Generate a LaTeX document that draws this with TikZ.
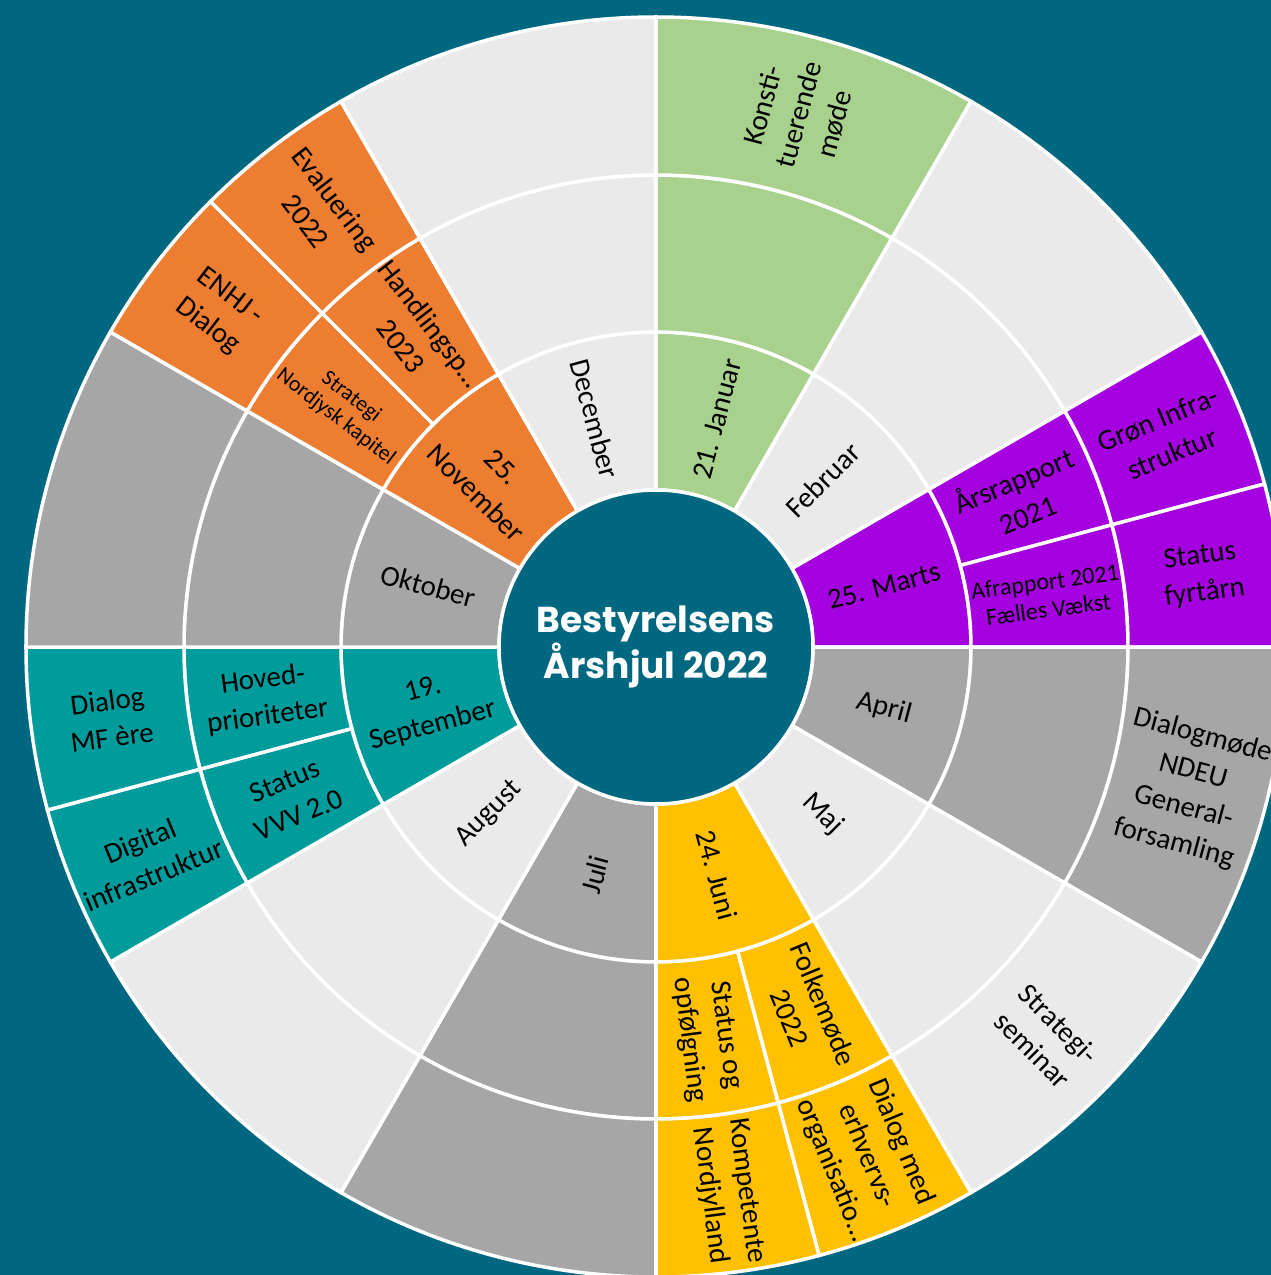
\documentclass[tikz,border=0pt]{standalone}
\usepackage{fontspec}
\setmainfont{Carlito}
\newfontfamily\titelfont{Poppins}
\usepackage{tikz}
\definecolor{baggrund}{HTML}{006780}
\definecolor{lysgraa}{HTML}{EAEAEA}
\definecolor{moerkgraa}{HTML}{A6A6A6}
\definecolor{groen}{HTML}{A9D18E}
\definecolor{lilla}{HTML}{A500E0}
\definecolor{gul}{HTML}{FFC000}
\definecolor{turkis}{HTML}{009B9B}
\definecolor{orange}{HTML}{ED7D31}
\newcommand{\sektor}[5]{%
  \filldraw[skel,fill=#1] (#2:#4pt) arc[start angle=#2,end angle=#3,radius=#4pt]
    -- (#3:#5pt) arc[start angle=#3,end angle=#2,radius=#5pt] -- cycle;}

\begin{document}
\begin{tikzpicture}[
    skel/.style={draw=white, line width=3.5pt},
    mnd/.style={font=\fontsize{29}{37}\selectfont, align=center, text=black},
    lille/.style={font=\fontsize{24}{28}\selectfont, align=center, text=black}]
  \useasboundingbox (-656pt,-628pt) rectangle (615pt,647pt);
  \clip (-656pt,-628pt) rectangle (615pt,647pt);
  \fill[baggrund] (-656pt,-628pt) rectangle (615pt,647pt);

  \sektor{groen}{90}{60}{157}{315}
  \sektor{groen}{90}{60}{315}{472}
  \sektor{groen}{90}{60}{472}{630}
  \sektor{lysgraa}{60}{30}{157}{315}
  \sektor{lysgraa}{60}{30}{315}{472}
  \sektor{lysgraa}{60}{30}{472}{630}
  \sektor{lilla}{30}{0}{157}{315}
  \sektor{lilla}{30}{15}{315}{472}
  \sektor{lilla}{15}{0}{315}{472}
  \sektor{lilla}{30}{15}{472}{630}
  \sektor{lilla}{15}{0}{472}{630}
  \sektor{moerkgraa}{0}{-30}{157}{315}
  \sektor{moerkgraa}{0}{-30}{315}{472}
  \sektor{moerkgraa}{0}{-30}{472}{630}
  \sektor{lysgraa}{-30}{-60}{157}{315}
  \sektor{lysgraa}{-30}{-60}{315}{472}
  \sektor{lysgraa}{-30}{-60}{472}{630}
  \sektor{gul}{-60}{-90}{157}{315}
  \sektor{gul}{-60}{-75}{315}{472}
  \sektor{gul}{-75}{-90}{315}{472}
  \sektor{gul}{-60}{-75}{472}{630}
  \sektor{gul}{-75}{-90}{472}{630}
  \sektor{moerkgraa}{-90}{-120}{157}{315}
  \sektor{moerkgraa}{-90}{-120}{315}{472}
  \sektor{moerkgraa}{-90}{-120}{472}{630}
  \sektor{lysgraa}{-120}{-150}{157}{315}
  \sektor{lysgraa}{-120}{-150}{315}{472}
  \sektor{lysgraa}{-120}{-150}{472}{630}
  \sektor{turkis}{-150}{-180}{157}{315}
  \sektor{turkis}{-150}{-165}{315}{472}
  \sektor{turkis}{-165}{-180}{315}{472}
  \sektor{turkis}{-150}{-165}{472}{630}
  \sektor{turkis}{-165}{-180}{472}{630}
  \sektor{moerkgraa}{180}{150}{157}{315}
  \sektor{moerkgraa}{180}{150}{315}{472}
  \sektor{moerkgraa}{180}{150}{472}{630}
  \sektor{orange}{150}{120}{157}{315}
  \sektor{orange}{150}{135}{315}{472}
  \sektor{orange}{135}{120}{315}{472}
  \sektor{orange}{150}{135}{472}{630}
  \sektor{orange}{135}{120}{472}{630}
  \sektor{lysgraa}{120}{90}{157}{315}
  \sektor{lysgraa}{120}{90}{315}{472}
  \sektor{lysgraa}{120}{90}{472}{630}

  \node[circle, fill=baggrund, draw=white, line width=3.5pt, minimum size=314pt,
        inner sep=0pt, align=center, text=white,
        font=\titelfont\bfseries\fontsize{36}{44}\selectfont] (midte) at (0,0)
        {Bestyrelsens\\Årshjul 2022};

  \node[mnd, rotate=75]  (jan) at (75:236pt)   {21. Januar};
  \node[mnd, rotate=45]  (feb) at (45:236pt)   {Februar};
  \node[mnd, rotate=15]  (mar) at (15:236pt)   {25. Marts};
  \node[mnd, rotate=-15] (apr) at (-15:236pt)  {April};
  \node[mnd, rotate=-45] (maj) at (-45:236pt)  {Maj};
  \node[mnd, rotate=-75] (jun) at (-75:236pt)  {24. Juni};
  \node[mnd, rotate=75]  (jul) at (-105:236pt) {Juli};
  \node[mnd, rotate=45]  (aug) at (-135:236pt) {August};
  \node[mnd, rotate=15]  (sep) at (-165:236pt) {19.\\September};
  \node[mnd, rotate=-15] (okt) at (165:236pt)  {Oktober};
  \node[mnd, rotate=-45] (nov) at (135:236pt)  {25.\\November};
  \node[mnd, rotate=-75] (dec) at (105:236pt)  {December};

  \node[mnd, rotate=22.5]   (mar-a) at (22.5:394pt)   {Årsrapport\\2021};
  \node[lille, rotate=7.5]  (mar-b) at (7.5:394pt)    {Afrapport 2021\\Fælles Vækst};
  \node[mnd, rotate=-67.5]  (jun-a) at (-67.5:394pt)  {Folkemøde\\2022};
  \node[mnd, rotate=-82.5]  (jun-b) at (-82.5:394pt)  {Status og\\opfølgning};
  \node[mnd, rotate=22.5]   (sep-a) at (-157.5:394pt) {Status\\VVV 2.0};
  \node[mnd, rotate=7.5]    (sep-b) at (-172.5:394pt) {Hoved-\\prioriteter};
  \node[lille, rotate=-37.5, font=\fontsize{22}{25}\selectfont]
                            (nov-a) at (142.5:394pt)  {Strategi\\Nordjysk kapitel};
  \node[mnd, rotate=-52.5]  (nov-b) at (127.5:394pt)  {Handlingsp…\\2023};

  \node[mnd, rotate=75]     (jan-y) at (75:551pt)     {Konsti-\\tuerende\\møde};
  \node[mnd, rotate=22.5]   (mar-y) at (22.5:551pt)   {Grøn Infra-\\struktur};
  \node[mnd, rotate=7.5]    (mar-z) at (7.5:551pt)    {Status\\fyrtårn};
  \node[mnd, rotate=-15]    (apr-y) at (-15:551pt)    {Dialogmøde\\NDEU\\General-\\forsamling};
  \node[mnd, rotate=-45]    (maj-y) at (-45:551pt)    {Strategi-\\seminar};
  \node[mnd, rotate=-67.5]  (jun-y) at (-67.5:551pt)  {Dialog med\\erhvervs-\\organisatio…};
  \node[mnd, rotate=-82.5]  (jun-z) at (-82.5:551pt)  {Kompetente\\Nordjylland};
  \node[mnd, rotate=22.5]   (sep-y) at (-157.5:551pt) {Digital\\infrastruktur};
  \node[mnd, rotate=7.5]    (sep-z) at (-172.5:551pt) {Dialog\\MF ère};
  \node[mnd, rotate=-37.5]  (nov-y) at (142.5:551pt)  {ENHJ -\\Dialog};
  \node[mnd, rotate=-52.5]  (nov-z) at (127.5:551pt)  {Evaluering\\2022};
\end{tikzpicture}
\end{document}
